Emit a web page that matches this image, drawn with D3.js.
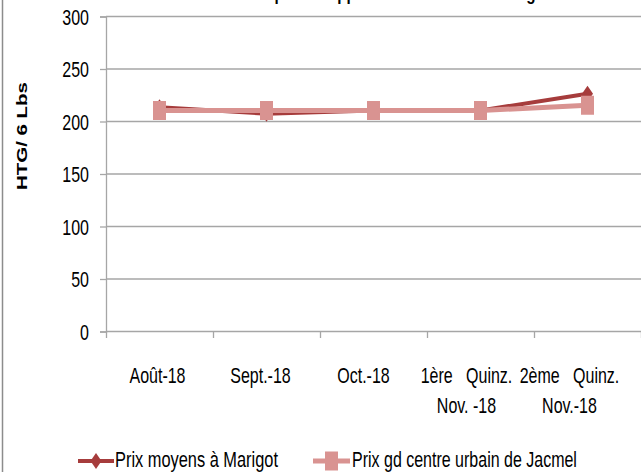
<!DOCTYPE html>
<html>
<head>
<meta charset="utf-8">
<script src="https://cdn.jsdelivr.net/npm/d3@7"></script>
<style>
  body { margin: 0; background: #fff; }
  svg text { font-family: "Liberation Sans", Arial, sans-serif; }
</style>
</head>
<body>
<div id="chart"></div>
<script>
const width = 641, height = 472

// data
const categories = ["Août-18", "Sept.-18", "Oct.-18", "1ère Quinz. Nov.-18", "2ème Quinz. Nov.-18"]
const categoryLines = [["Août-18"], ["Sept.-18"], ["Oct.-18"], ["1ère   Quinz.", "Nov. -18"], ["2ème   Quinz.", "Nov.-18"]]
const marigot = [213, 207, 210, 210, 226]
const jacmel = [210, 210, 210, 210, 215]
const yTicks = [0, 50, 100, 150, 200, 250, 300]
const seriesNames = ["Prix moyens à Marigot", "Prix gd centre urbain de Jacmel"]
const titleText = "Prix du riz sur le point d'approvisionnement de Marigot"

const margin = { top: 16, right: 0, bottom: 141, left: 106 }
const colMarigot = "#a63c3c", colJacmel = "#d99391"
const sx = 0.8, sy = 1.08 // the reference uses a narrow, tall font

const svg = d3.select("#chart")
    .append("svg")
    .attr("width", width)
    .attr("height", height)

// chart border (only left edge visible)
svg.append("line")
    .attr("x1", 2.5).attr("x2", 2.5)
    .attr("y1", 0).attr("y2", height)
    .attr("stroke", "#8c8c8c")
    .attr("stroke-width", 1.5)

// title, cut off at the top of the picture
svg.append("text")
    .attr("transform", `translate(351,0) scale(${sx},1)`)
    .attr("text-anchor", "middle")
    .style("font-weight", "bold")
    .style("font-size", "19px")
    .text(titleText)

const x = d3.scaleBand()
    .domain(categories)
    .range([margin.left, width - margin.right])

// labels in the reference sit on a slightly tighter spacing
const xLabel = d3.scaleBand()
    .domain(categories)
    .range([margin.left, width - 20])

const y = d3.scaleLinear()
    .domain([0, 300])
    .range([height - margin.bottom, margin.top])

// gridlines
svg.append("g")
    .selectAll("line")
    .data(yTicks)
    .join("line")
    .attr("x1", margin.left)
    .attr("x2", width)
    .attr("y1", d => y(d) + 0.5)
    .attr("y2", d => y(d) + 0.5)
    .attr("stroke", "#a6a6a6")
    .attr("stroke-width", 1.3)

// y-axis
const yAxis = svg.append("g")
    .attr("transform", `translate(${margin.left},0.5)`)
    .call(d3.axisLeft(y).tickValues(yTicks).tickSize(6).tickPadding(11))
yAxis.select(".domain").attr("stroke", "#a6a6a6").attr("stroke-width", 1.3)
yAxis.selectAll(".tick line").attr("stroke", "#a6a6a6").attr("stroke-width", 1.3)
yAxis.selectAll("text")
    .attr("fill", "#000")
    .style("font-size", "20px")
    .attr("dy", "0.35em")
    .attr("x", 0)
    .attr("transform", `translate(-17,0) scale(${sx},${sy})`)

// x-axis ticks at category boundaries
svg.append("g")
    .selectAll("line")
    .data(d3.range(categories.length + 1))
    .join("line")
    .attr("x1", i => margin.left + i * x.step() + 0.5)
    .attr("x2", i => margin.left + i * x.step() + 0.5)
    .attr("y1", y(0))
    .attr("y2", y(0) + 7)
    .attr("stroke", "#a6a6a6")
    .attr("stroke-width", 1.3)

// category labels
const labels = svg.append("g")
    .selectAll("text")
    .data(categories)
    .join("text")
    .attr("transform", d => `translate(${xLabel(d) + xLabel.bandwidth() / 2},383) scale(${sx},${sy})`)
    .attr("text-anchor", "middle")
    .style("font-size", "20px")
    .attr("fill", "#000")
labels.each(function (d, i) {
    d3.select(this).selectAll("tspan")
        .data(categoryLines[i])
        .join("tspan")
        .attr("x", 0)
        .attr("y", (t, j) => j * 28)
        .attr("xml:space", "preserve")
        .text(t => t)
})

// y-axis title
svg.append("text")
    .attr("transform", "translate(27,136) rotate(-90)")
    .attr("text-anchor", "middle")
    .style("font-weight", "bold")
    .style("font-size", "15px")
    .attr("textLength", 108)
    .attr("lengthAdjust", "spacingAndGlyphs")
    .text("HTG/ 6 Lbs")

const cx = d => x(d) + x.bandwidth() / 2
const line = d3.line()
    .x(d => cx(d.cat))
    .y(d => y(d.v))

const marigotPts = categories.map((c, i) => ({ cat: c, v: marigot[i] }))
const jacmelPts = categories.map((c, i) => ({ cat: c, v: jacmel[i] }))

// diamond marker, stretched like the reference
const diamond = (g, px, py, col) => g.append("path")
    .attr("d", `M${px},${py - 8}L${px + 5.5},${py}L${px},${py + 8}L${px - 5.5},${py}Z`)
    .attr("fill", col)

// Marigot series
svg.append("path")
    .datum(marigotPts)
    .attr("fill", "none")
    .attr("stroke", colMarigot)
    .attr("stroke-width", 4)
    .attr("d", line)
const gM = svg.append("g")
marigotPts.forEach(d => diamond(gM, cx(d.cat), y(d.v), colMarigot))

// Jacmel series (drawn on top)
svg.append("path")
    .datum(jacmelPts)
    .attr("fill", "none")
    .attr("stroke", colJacmel)
    .attr("stroke-width", 5)
    .attr("d", line)
svg.append("g")
    .selectAll("rect")
    .data(jacmelPts)
    .join("rect")
    .attr("x", d => cx(d.cat) - 6.5)
    .attr("y", d => y(d.v) - 9.5)
    .attr("width", 13)
    .attr("height", 19)
    .attr("fill", colJacmel)

// legend
const legY = 461
const leg = svg.append("g")
leg.append("line").attr("x1", 78).attr("x2", 114).attr("y1", legY).attr("y2", legY)
    .attr("stroke", colMarigot).attr("stroke-width", 4)
diamond(leg, 96, legY, colMarigot)
leg.append("text").attr("transform", `translate(115,${legY + 6}) scale(0.82,${sy})`)
    .style("font-size", "20px").text(seriesNames[0])

leg.append("line").attr("x1", 313).attr("x2", 350).attr("y1", legY).attr("y2", legY)
    .attr("stroke", colJacmel).attr("stroke-width", 5)
leg.append("rect").attr("x", 325).attr("y", legY - 9.5).attr("width", 13).attr("height", 19)
    .attr("fill", colJacmel)
leg.append("text").attr("transform", `translate(352,${legY + 6}) scale(0.8,${sy})`)
    .style("font-size", "20px").text(seriesNames[1])
</script>
</body>
</html>
